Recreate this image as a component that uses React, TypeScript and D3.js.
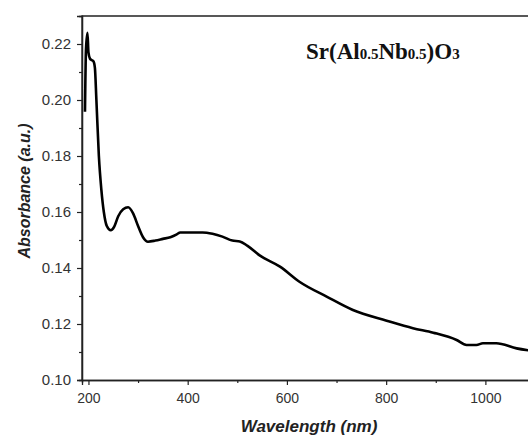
import React, { useRef, useEffect } from 'react';
import * as d3 from 'd3';

// wavelength (nm) and absorbance
const wavelength = [
  193, 195, 198, 200, 203, 206, 210, 213, 216, 221, 226, 231, 237, 245,
  252, 260, 270, 280, 290, 300, 310, 320, 335, 350, 365, 378, 385, 400,
  430, 450, 470, 490, 505, 520, 545, 586, 626, 680, 733, 801, 854, 895,
  942, 962, 982, 995, 1022, 1063, 1090,
];
const absorbance = [
  0.1958, 0.218, 0.224, 0.217, 0.2148, 0.2143, 0.2138, 0.2115, 0.2, 0.18, 0.168, 0.16, 0.155, 0.1535,
  0.1548, 0.1585, 0.161, 0.1617, 0.1595, 0.155, 0.151, 0.1494, 0.1498, 0.1504, 0.151, 0.152, 0.1527, 0.1527,
  0.1527, 0.1522, 0.1512, 0.1498, 0.1495, 0.148, 0.1445, 0.1405, 0.135, 0.1298, 0.125, 0.1212, 0.1185, 0.1169,
  0.1143, 0.1125, 0.1125, 0.1131, 0.1131, 0.1113, 0.1105,
];
const xMajorTicks = [200, 400, 600, 800, 1000];
const xMinorTicks = [300, 500, 700, 900, 1100];
const yMajorTicks = [0.1, 0.12, 0.14, 0.16, 0.18, 0.2, 0.22];
const yMinorTicks = [0.11, 0.13, 0.15, 0.17, 0.19, 0.21];

const W = 528;
const H = 436;
const left = 82;
const top = 16;
const bottom = 380;

const App = () => {
  const svgRef = useRef<SVGSVGElement>(null);

  useEffect(() => {
    const svg = d3.select(svgRef.current);
    svg.selectAll('*').remove();

    const x = d3.scaleLinear().domain([187, 1100]).range([left, 535]);
    const y = d3.scaleLinear().domain([0.1, 0.23]).range([bottom, top]);
    const font = 'Arial, "Liberation Sans", sans-serif';

    // frame (top and left; right edge runs off the picture)
    svg.append('path')
      .attr('d', `M${left},${bottom}V${top}H${W + 10}`)
      .attr('fill', 'none')
      .attr('stroke', '#222')
      .attr('stroke-width', 1.3);

    const xAxis = svg.append('g').attr('transform', `translate(0,${bottom})`)
      .call(d3.axisBottom(x).tickValues(xMajorTicks).tickSize(5).tickPadding(8).tickFormat(d3.format('d')));
    svg.append('g').attr('transform', `translate(0,${bottom})`)
      .call(d3.axisBottom(x).tickValues(xMinorTicks).tickSize(3).tickFormat(() => ''));
    const yAxis = svg.append('g').attr('transform', `translate(${left},0)`)
      .call(d3.axisLeft(y).tickValues(yMajorTicks).tickSize(5).tickPadding(6).tickFormat(d3.format('.2f')));
    svg.append('g').attr('transform', `translate(${left},0)`)
      .call(d3.axisLeft(y).tickValues(yMinorTicks).tickSize(3).tickFormat(() => ''));

    svg.selectAll('.domain').attr('stroke', '#222').attr('stroke-width', 1.3);
    svg.selectAll('.tick line').attr('stroke', '#222').attr('stroke-width', 1.2);
    xAxis.selectAll('text').attr('font-size', 14);
    yAxis.selectAll('text').attr('font-size', 15);
    [xAxis, yAxis].forEach(a => a.selectAll('text')
      .attr('font-family', font)
      .attr('fill', '#333'));

    const line = d3.line<number>()
      .x((d, i) => x(wavelength[i]))
      .y(d => y(d))
      .curve(d3.curveMonotoneX);

    svg.append('path')
      .datum(absorbance)
      .attr('d', line)
      .attr('fill', 'none')
      .attr('stroke', '#000')
      .attr('stroke-width', 2.6)
      .attr('stroke-linejoin', 'round');

    // axis titles
    svg.append('text')
      .attr('transform', `translate(30,191) rotate(-90)`)
      .attr('text-anchor', 'middle')
      .attr('font-family', font)
      .attr('font-size', 16)
      .attr('font-weight', 'bold')
      .attr('font-style', 'italic')
      .attr('fill', '#222')
      .text('Absorbance (a.u.)');

    svg.append('text')
      .attr('x', 309)
      .attr('y', 432)
      .attr('text-anchor', 'middle')
      .attr('font-family', font)
      .attr('font-size', 17)
      .attr('font-weight', 'bold')
      .attr('font-style', 'italic')
      .attr('fill', '#222')
      .text('Wavelength (nm)');

    // compound label
    const t = svg.append('text')
      .attr('x', 306)
      .attr('y', 59)
      .attr('font-family', '"Times New Roman", "Liberation Serif", serif')
      .attr('font-size', 23)
      .attr('font-weight', 'bold')
      .attr('fill', '#111');
    const parts: [string, boolean][] = [
      ['Sr(Al', false], ['0.5', true], ['Nb', false], ['0.5', true], [')O', false], ['3', true],
    ];
    parts.forEach(([s, sub]) => {
      t.append('tspan')
        .attr('font-size', sub ? 15 : 23)
        .text(s);
    });
  }, []);

  return (
    <svg ref={svgRef} width={W} height={H}
      style={{ position: 'absolute', left: 0, top: 0, background: '#fff' }} />
  );
};

export default App;
